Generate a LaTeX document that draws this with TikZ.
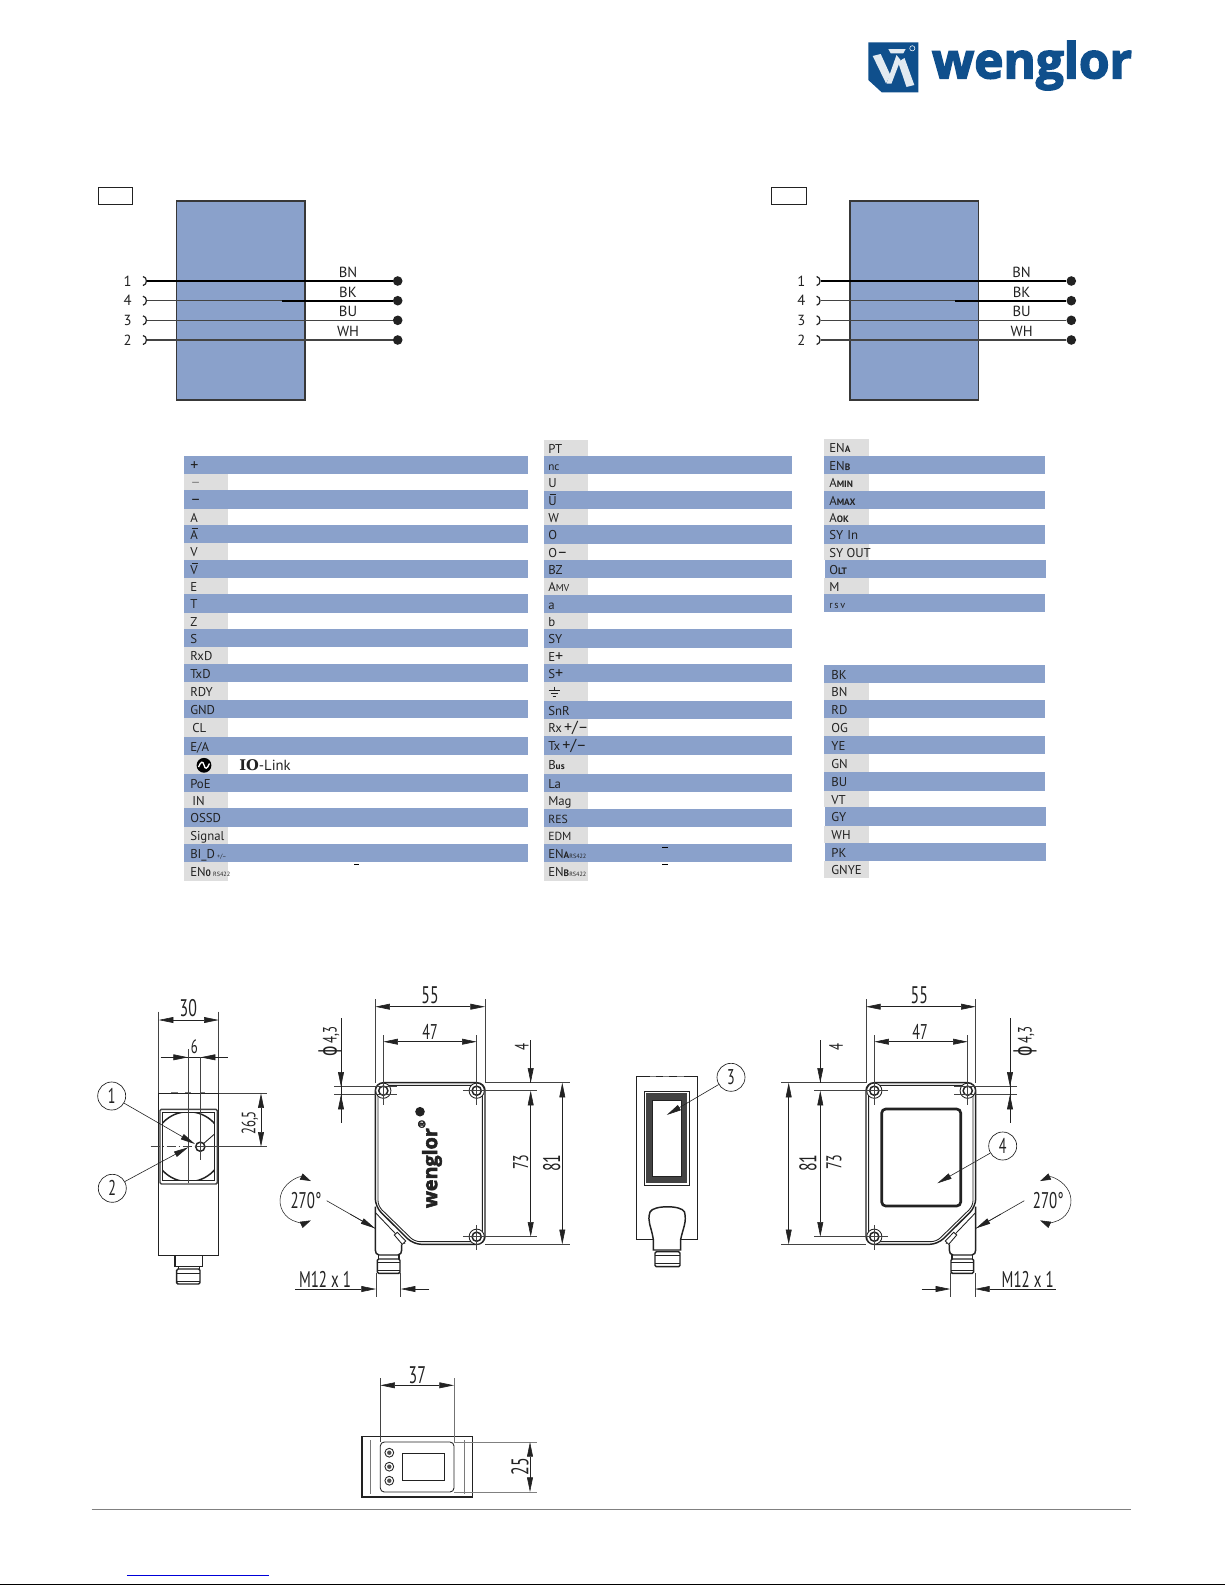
\documentclass[tikz,border=0pt]{standalone}
\usepackage{graphicx}
\usepackage{fontspec}
\setmainfont{PT Sans}
\newfontfamily\ioserif{DejaVu Serif}
\newfontfamily\grk{DejaVu Sans}
\newfontfamily\logofont[BoldFeatures={FakeBold=3}]{Open Sans}
\usetikzlibrary{arrows.meta}
\definecolor{band}{HTML}{8AA1CB}
\definecolor{graycell}{HTML}{DEDEDE}
\definecolor{ink}{HTML}{222222}
\definecolor{logoblue}{HTML}{0F4F8C}
\newcommand\ovl[1]{\leavevmode\rlap{\hskip0.1em\raisebox{0.8em}{\rule{0.5em}{0.5pt}}}#1}
\newcommand\sm[1]{{\fontsize{7}{7}\selectfont\bfseries #1}}
\newcommand\tn[1]{{\fontsize{4.6}{5}\selectfont #1}}
\newcommand\dt[1]{\scalebox{0.66}[1]{#1}}
\newcommand\bg[1]{{\fontsize{12}{12}\selectfont #1}}
\tikzset{
  x=0.75pt, y=-0.75pt,
  lab/.style={anchor=base west, inner sep=0pt, text=ink, font=\fontsize{9.6}{10}\selectfont},
  wirelab/.style={inner sep=0pt, text=ink, font=\fontsize{11}{12}\selectfont},
  dimtxt/.style={inner sep=0pt, text=ink, font=\fontsize{18}{18}\selectfont},
  dimmid/.style={inner sep=0pt, text=ink, font=\fontsize{16}{16}\selectfont},
  dimsmall/.style={inner sep=0pt, text=ink, font=\fontsize{14.5}{15}\selectfont},
  balloon/.style={circle, draw=ink, line width=0.5pt, minimum size=21pt, inner sep=0pt, text=ink, font=\fontsize{16}{16}\selectfont},
  dimln/.style={line width=0.45pt, draw=ink},
  ext/.style={line width=0.4pt, draw=ink!85},
  tip/.style={-{Triangle[length=11pt,width=4.4pt]}},
  tips/.style={{Triangle[length=11pt,width=4.4pt]}-{Triangle[length=11pt,width=4.4pt]}},
  heavy/.style={line width=1.1pt, draw=ink},
  mid/.style={line width=0.65pt, draw=ink},
  wirept/.style={circle, fill=ink, minimum size=7.2pt, inner sep=0pt},
}
% geometry shared by the front and the mirrored back view
\newcommand\housingGeom{%
  % body
  \draw[heavy,fill=white,rounded corners=6pt] (375.3,1206.7) -- (375.3,1082.7) -- (485,1082.7) -- (485,1244.3) -- (413.3,1244.3) -- cycle;
  \draw[mid,rounded corners=4pt] (378,1206) -- (378,1085.4) -- (482.4,1085.4) -- (482.4,1241.6) -- (414.5,1241.6) -- cycle;
  \draw[mid] (398,1082.4) -- (405,1082.4);
  \foreach \hx/\hy in {383.3/1090.7,476.7/1090.7,476.7/1236.7}{
    \draw[mid,fill=white] (\hx,\hy) circle[radius=7.6];
    \draw[heavy,fill=white] (\hx,\hy) circle[radius=4.6];
  }
  % dimension lines
  \draw[ext] (375.3,999.3) -- (375.3,1082.7);
  \draw[ext] (485,999.3) -- (485,1082.7);
  \draw[dimln,tips] (375.3,1006.7) -- (485,1006.7);
  \draw[ext] (383.3,1035) -- (383.3,1105);
  \draw[ext] (476.7,1035) -- (476.7,1105);
  \draw[ext] (476.7,1225) -- (476.7,1250);
  \draw[dimln,tips] (383.3,1041.7) -- (476.7,1041.7);
  \draw[ext] (334,1086.7) -- (397,1086.7);
  \draw[ext] (334,1094.7) -- (397,1094.7);
  \draw[dimln] (341,1018.3) -- (341,1123.3);
  \draw[dimln,tip] (341,1068) -- (341,1086.7);
  \draw[dimln,tip] (341,1113) -- (341,1094.7);
  \draw[ext] (485,1082.7) -- (570,1082.7);
  \draw[ext] (485,1244.3) -- (570,1244.3);
  \draw[ext] (463,1090.7) -- (537,1090.7);
  \draw[ext] (463,1236.7) -- (537,1236.7);
  \draw[dimln] (530.7,1040) -- (530.7,1082.7);
  \draw[dimln,tip] (530.7,1066) -- (530.7,1082.7);
  \draw[dimln,tips] (530.7,1090.7) -- (530.7,1236.7);
  \draw[dimln,tips] (562.3,1082.7) -- (562.3,1244.3);
  % connector bracket
  \draw[heavy] (375.3,1206.7) -- (375.3,1250) to[out=-90,in=180] (379,1255) -- (398,1255) to[out=0,in=-90] (401.7,1250) -- (401.7,1244.3);
  \draw[mid] (375.3,1212.5) -- (405,1243.6);
  \draw[mid,fill=white] (394.3,1235) -- (397.3,1232.3) -- (405.7,1241) -- (402.3,1244.3) -- cycle;
  \draw[heavy] (378.3,1255) -- (378.3,1259) (399,1255) -- (399,1259);
  \draw[heavy,fill=white,rounded corners=1pt] (377.3,1259) rectangle (400,1273.3);
  \draw[mid] (377.3,1262.5) -- (400,1262.5);
  \draw[mid] (377.3,1270) -- (400,1270);
  % turning range and thread
  \draw[dimln] (326.7,1200.7) -- (375,1228.3);
  \draw[dimln,tip] (350,1214) -- (375,1228.3);
  \draw[line width=0.4pt,draw=ink,{Triangle[length=8pt,width=5pt]}-{Triangle[length=8pt,width=5pt]}] (301.7,1200.7) ++(-65:21.7) arc[start angle=-65,end angle=-295,radius=21.7];
  \draw[ext] (376,1273.3) -- (376,1296.7);
  \draw[ext] (400.7,1273.3) -- (400.7,1296.7);
  \draw[dimln,tip] (295.3,1289) -- (376,1289);
  \draw[dimln,tip] (429.3,1289) -- (400.7,1289);
}
\begin{document}
\begin{tikzpicture}
\useasboundingbox (0,0) rectangle (1225,1585);
\fill[white] (0,0) rectangle (1225,1585);

% ---------- logo ----------
\fill[logoblue] (868.3,42.3) -- (918.3,42.3) -- (918.3,92.3) -- (881.7,92.3) -- (868.3,80) -- cycle;
\fill[white!88!logoblue] (888.3,49) -- (905.7,49) -- (903.3,53.3) -- (890.7,53.3) -- cycle;
\fill[white!88!logoblue] (872.7,56) -- (880.7,54) -- (890.3,75) -- (886,83.3) -- cycle;
\fill[white!88!logoblue] (886.5,83.5) -- (896.5,55) -- (900.5,60) -- (891.5,83.5) -- cycle;
\fill[white!88!logoblue] (898,62) -- (904.5,58) -- (914.3,85) -- (906.5,87) -- cycle;
\draw[white,line width=0.4pt] (912.3,48.3) circle[radius=2.6];
\node[inner sep=0pt,anchor=base west,text=logoblue] (logotext) at (931.7,78.3) {\resizebox{150pt}{!}{\logofont\bfseries wenglor}};

% ---------- wiring ----------
\foreach \dx/\sf in {0/a,673.6/b}{
\begin{scope}[xshift=\dx*0.75pt]
  \draw[line width=0.5pt,draw=ink] (98,187) rectangle (132.5,204);
  \draw[line width=1.1pt,draw=ink!90,fill=band] (176.5,201) rectangle (305,400);
  \foreach \yy/\nm/\col/\pin in {281/1/BN/1,300.7/2/BK/4,320.3/3/BU/3,340/4/WH/2}{
    \coordinate (s\sf\nm) at (147,\yy);
    \node[wirept] (d\sf\nm) at (397.7,\yy) {};
    \draw[line width=0.9pt,draw=ink] (143,\yy-4.5) .. controls (147.5,\yy-4) and (147.5,\yy+4) .. (143,\yy+4.5);
    \node[wirelab] (p\sf\nm) at (127.7,\yy) {\pin};
    \node[wirelab] (c\sf\nm) at (348,\yy-8.6) {\col};
  }
  \draw[line width=1.2pt,draw=black] (s\sf1) -- (d\sf1);
  \draw[line width=0.9pt,draw=ink!85] (s\sf2) -- (d\sf2);
  \coordinate (m\sf) at (281.7,300.7);
  \draw[line width=1.2pt,draw=black] (m\sf) -- (d\sf2);
  \draw[line width=1pt,draw=ink!85] (s\sf3) -- (d\sf3);
  \draw[line width=1pt,draw=ink!85] (s\sf4) -- (d\sf4);
\end{scope}
}

% ---------- table column 1 ----------
\foreach \ya/\yb/\tx in {456/474/{\bg{+}},490/509/{\bg{–}},525/543/{\ovl{A}},560/578/{\ovl{V}},594/613/{T},629/647/{S},664/682/{TxD},700/718/{GND},737/755/{E/A},774/792/{PoE},808/827/{OSSD},844/862/{BI\_D\,\tn{+/–}}}{
  \fill[band] (184,\ya) rectangle (528,\yb);
  \node[lab] at (190,{(\ya+\yb)/2+5}) {\tx};
}
\foreach \ya/\yb/\tx in {474/490/{\textcolor{black!45}{\bg{–}}},509/525/{A},543/560/{V},578/594/{E},613/629/{Z},647/664/{RxD},682/700/{RDY},718/737/{\,CL},755/774/{},792/808/{\,IN},827/844/{Signal},862/881/{EN\sm{0}\,\tn{RS422}}}{
  \fill[graycell] (184,\ya) rectangle (228,\yb);
  \node[lab] at (190,{(\ya+\yb)/2+5}) {\tx};
}
\fill[black] (204,765.3) circle[radius=7.4];
\draw[white,line width=1pt] (198.5,767) .. controls (201,761) and (203,761) .. (204,765) .. controls (205,769.5) and (207,769.5) .. (209.5,763.5);
\node[lab,anchor=west,font=\fontsize{11}{12}\selectfont] (iolink) at (239,765.5) {{\ioserif\bfseries IO}-Link};

% ---------- table column 2 ----------
\foreach \ya/\yb/\tx in {456/474/{{\fontsize{8.4}{9}\selectfont nc}},491/509/{\ovl{U}},525/544/{O},560/578/{BZ},595/613/{a},629/648/{SY},664/682/{S\bg{+}},701/719/{SnR},736/755/{Tx\,\bg{+/–}},774/792/{La},809/827/{{\fontsize{8.8}{9}\selectfont RES}},844/862/{EN\sm{A}\tn{RS422}}}{
  \fill[band] (544,\ya) rectangle (792,\yb);
  \node[lab] at (548,{(\ya+\yb)/2+5}) {\tx};
}
\foreach \ya/\yb/\tx in {440/456/{PT},474/491/{U},509/525/{W},544/560/{O\bg{–}},578/595/{A\tn{\fontsize{7.5}{8}\selectfont MV}},613/629/{b},648/664/{E\bg{+}},682/701/{},719/736/{Rx\,\bg{+/–}},755/774/{B\sm{us}},792/809/{Mag},827/844/{{\fontsize{8.8}{9}\selectfont EDM}},862/881/{EN\sm{B}\tn{RS422}}}{
  \fill[graycell] (544,\ya) rectangle (588,\yb);
  \node[lab] at (548,{(\ya+\yb)/2+5}) {\tx};
}
\draw[line width=0.55pt,draw=ink] (554,686.7) -- (554,690.7) (548.5,690.7) -- (560,690.7) (550.5,693.5) -- (557.5,693.5) (552.5,696) -- (555.5,696);
\fill[black] (354,863.5) rectangle (358.5,864.8);
\fill[black] (662.3,846.5) rectangle (667.5,848.3);
\fill[black] (662.3,863.5) rectangle (667.5,864.6);

% ---------- table column 3 ----------
\foreach \ya/\yb/\tx/\sh in {456/474/{EN\sm{B}}/0,491/509/{A\sm{MAX}}/0,525/544/{SY\,\,In}/0,560/578/{O\sm{LT}}/1,594/612/{{\fontsize{7.6}{8}\selectfont r\,s\,v}}/0,665/683/{\,BK}/0,700/718/{\,RD}/0,736/754/{\,YE}/0,772/791/{\,BU}/0,807/826/{\,GY}/1,843/861/{\,PK}/1}{
  \fill[band] (824+\sh,\ya) rectangle (1045+\sh,\yb);
  \node[lab] at (829,{(\ya+\yb)/2+5}) {\tx};
}
\foreach \ya/\yb/\tx in {439/456/{EN\sm{A}},474/491/{A\sm{MIN}},509/525/{A\sm{OK}},544/560/{SY OUT},578/594/{M},683/700/{\,BN},718/736/{\,OG},754/772/{\,GN},791/807/{\,VT},826/843/{\,WH},861/878/{\,GNYE}}{
  \fill[graycell] (824,\ya) rectangle (869,\yb);
  \node[lab] at (829,{(\ya+\yb)/2+5}) {\tx};
}

% ---------- left view ----------
\draw[mid,fill=white] (158.7,1093.3) rectangle (218.7,1255.7);
\draw[ext,draw=ink!60] (171,1092.7) -- (178,1092.7) (185,1092.7) -- (191,1092.7) (200,1092.7) -- (205,1092.7);
\draw[heavy,draw=ink!85,rounded corners=1pt] (160,1109.3) rectangle (217.3,1184);
\draw[mid] (162.7,1112.7) rectangle (214.7,1180.7);
\begin{scope}
  \clip (162.7,1112.7) rectangle (214.7,1180.7);
  \draw[heavy] (188.3,1146.7) circle[radius=35];
\end{scope}
\draw[mid] (200,1146.7) -- (214.5,1134);
\draw[heavy,fill=white] (200.3,1146.7) circle[radius=4.6];
\draw[ext] (158.7,1011.7) -- (158.7,1093.3);
\draw[ext] (218.7,1011.7) -- (218.7,1093.3);
\draw[dimln,tips] (158.7,1020) -- (218.7,1020);
\node[dimtxt] (d30) at (188.3,1008) {\dt{30}};
\draw[dimln] (160.7,1057.3) -- (228.3,1057.3);
\draw[dimln,tip] (172,1057.3) -- (188,1057.3);
\draw[dimln,tip] (216,1057.3) -- (200.7,1057.3);
\node[dimsmall] (d6) at (194.3,1047) {\dt{6}};
\draw[ext] (188,1049.3) -- (188,1183);
\draw[ext] (200.7,1057) -- (200.7,1160);
\draw[ext,dash pattern=on 7pt off 2pt on 1pt off 2pt] (150.7,1146.7) -- (196,1146.7);
\draw[ext] (196,1146.7) -- (267,1146.7);
\draw[ext] (218.7,1093.3) -- (267,1093.3);
\draw[dimln,tips] (261,1093.3) -- (261,1146.7);
\node[dimsmall,rotate=90] (d26) at (250,1123) {\dt{26,5}};
\node[balloon] (b1) at (111.7,1096) {\dt{1}};
\node[balloon] (b2) at (112.3,1188.3) {\dt{2}};
\coordinate (t1) at (195,1144);
\coordinate (t2) at (188.3,1147.3);
\draw[dimln,tip] (b1) -- (t1);
\draw[dimln,tip] (b2) -- (t2);
\draw[heavy] (175,1255.7) -- (175,1266.7) -- (202.7,1266.7) -- (202.7,1255.7);
\draw[heavy,fill=white,rounded corners=1pt] (176.7,1269) rectangle (200,1284);
\draw[mid] (178,1266.7) -- (178,1269) (199,1266.7) -- (199,1269) (176.7,1273.5) -- (200,1273.5) (176.7,1281) -- (200,1281);

% ---------- front and back views ----------
\housingGeom
\begin{scope}[xshift=1351*0.75pt,xscale=-1]
  \housingGeom
\end{scope}
\node[dimtxt] at (430,995) {\dt{55}};
\node[dimmid] at (430,1031.7) {\dt{47}};
\node[dimsmall,rotate=90] at (330,1041.7) {\dt{{\grk\fontsize{18}{18}\selectfont ϕ}\,4,3}};
\node[dimsmall,rotate=90] at (521.7,1047.3) {\dt{4}};
\node[dimmid,rotate=90] at (520.7,1162.3) {\dt{73}};
\node[dimtxt,rotate=90] at (551.7,1163) {\dt{81}};
\node[dimsmall] at (306,1200.7) {\dt{\fontsize{17}{17}\selectfont 270°}};
\node[dimsmall] at (325,1279.3) {\dt{\fontsize{17}{17}\selectfont M12 x 1}};
\node[inner sep=0pt,rotate=90,text=ink] (wlogo) at (430,1164) {\resizebox{66pt}{!}{\logofont\bfseries wenglor\raisebox{1.1ex}{\tiny ®}}};
\fill[ink] (420,1111.7) circle[radius=4.8];

\node[dimtxt] at (919.3,995) {\dt{55}};
\node[dimmid] at (920,1031.7) {\dt{47}};
\node[dimsmall,rotate=90] at (1025,1041.7) {\dt{{\grk\fontsize{18}{18}\selectfont ϕ}\,4,3}};
\node[dimsmall,rotate=90] at (836,1047.3) {\dt{4}};
\node[dimmid,rotate=90] at (834,1162.3) {\dt{73}};
\node[dimtxt,rotate=90] at (808,1163) {\dt{81}};
\node[dimsmall] at (1048.3,1200.7) {\dt{\fontsize{17}{17}\selectfont 270°}};
\node[dimsmall] at (1027.7,1279.3) {\dt{\fontsize{17}{17}\selectfont M12 x 1}};
\draw[line width=2pt,draw=ink,rounded corners=3pt] (881.7,1109) rectangle (960.7,1206);
\node[balloon] (b4) at (1002.7,1146) {\dt{4}};
\coordinate (t4) at (937.3,1183.3);
\draw[dimln,tip] (b4) -- (t4);

% ---------- side view ----------
\draw[mid,fill=white] (636.7,1076.7) rectangle (697.3,1239.3);
\draw[ext,draw=ink!60] (650,1076.3) -- (656,1076.3) (663,1076.3) -- (669,1076.3) (677,1076.3) -- (684,1076.3);
\draw[mid,fill=white] (644,1091.3) rectangle (689.3,1185);
\fill[ink!85] (646,1093.3) rectangle (687.3,1183);
\draw[mid,fill=white] (652.3,1100) rectangle (681.7,1176);
\draw[heavy,fill=white] (653.3,1239.3) .. controls (651,1225) and (647,1222) .. (650,1212) .. controls (653,1205) and (682,1205) .. (684.5,1212) .. controls (687,1222) and (683,1228) .. (680.7,1239.3) -- (680.7,1250) -- (653.3,1250) -- cycle;
\draw[heavy,fill=white,rounded corners=1pt] (655,1251.7) rectangle (680,1266.7);
\draw[mid] (655,1255.5) -- (680,1255.5) (655,1263.5) -- (680,1263.5);
\node[balloon] (b3) at (731,1077.3) {\dt{3}};
\coordinate (t3) at (666.7,1115);
\draw[dimln,tip] (b3) -- (t3);

% ---------- bottom view ----------
\draw[heavy] (362,1436.7) rectangle (472.3,1497);
\draw[ext,draw=ink!60] (370.3,1440) -- (370.3,1494) (464,1440) -- (464,1494);
\draw[ext,draw=black!55] (454,1378.3) -- (454,1442);
\draw[ext] (380.3,1378.3) -- (380.3,1442);
\draw[dimln,tips] (380.3,1385.3) -- (454,1385.3);
\node[dimtxt] (d37) at (417.3,1375) {\dt{37}};
\draw[ext,draw=black!50] (454,1442) -- (536.7,1442);
\draw[ext,draw=black!50] (454,1492) -- (536.7,1492);
\draw[dimln,tips] (530,1442) -- (530,1492);
\node[dimtxt,rotate=90] (d25) at (520,1466.7) {\dt{25}};
\draw[mid,fill=white,rounded corners=3pt] (380.3,1442) rectangle (454,1492);
\draw[mid] (402.3,1453.3) rectangle (444.7,1480);
\foreach \ly in {1452.7,1466.7,1480.7}{
  \draw[mid] (389.3,\ly) circle[radius=4.4];
  \fill[ink!80] (389.3,\ly) circle[radius=2.2];
}

% ---------- footer ----------
\draw[line width=0.9pt,draw=black!50] (91.7,1509.3) -- (1130.7,1509.3);
\draw[line width=0.8pt,draw=blue!85!black] (126.8,1575.7) -- (269,1575.7);
\draw[line width=1.3pt,draw=black] (0,1584.4) -- (1225,1584.4);
\end{tikzpicture}
\end{document}
